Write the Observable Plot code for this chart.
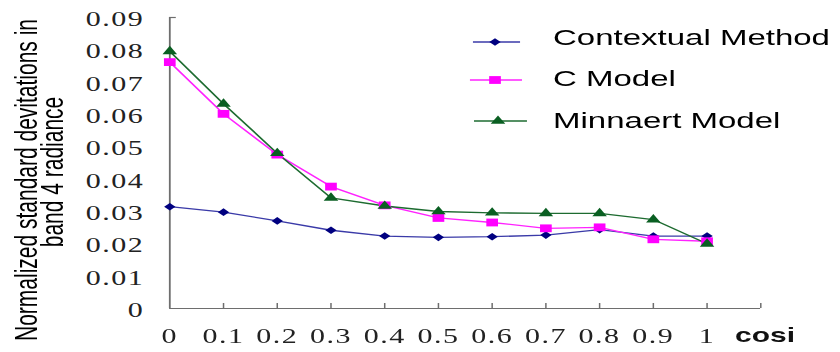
<!DOCTYPE html>
<html><head><meta charset="utf-8">
<script src="https://cdn.jsdelivr.net/npm/d3@7"></script>
<script src="https://cdn.jsdelivr.net/npm/@observablehq/plot@0.6"></script>
<style>
html,body{margin:0;padding:0;background:#fff;overflow:hidden}
#chart{width:560px;height:352px;transform:scaleX(1.5);transform-origin:0 0}
#chart svg{display:block}
</style></head><body><div id="chart"></div><script>
// ---- data ----
const cosi = [0, 0.1, 0.2, 0.3, 0.4, 0.5, 0.6, 0.7, 0.8, 0.9, 1];
const contextual = [0.0315, 0.0298, 0.0271, 0.0242, 0.0224, 0.0220, 0.0222, 0.0227, 0.0244, 0.0224, 0.0224];
const cModel = [0.0762, 0.0602, 0.0476, 0.0377, 0.0319, 0.0280, 0.0266, 0.0248, 0.0251, 0.0214, 0.0208];
const minnaert = [0.0795, 0.0633, 0.0480, 0.0342, 0.0317, 0.0300, 0.0296, 0.0294, 0.0294, 0.0275, 0.0200];
const seriesNames = ["Contextual Method", "C Model", "Minnaert Model"];
const yTicks = [0, 0.01, 0.02, 0.03, 0.04, 0.05, 0.06, 0.07, 0.08, 0.09];
const xTicks = [0, 0.1, 0.2, 0.3, 0.4, 0.5, 0.6, 0.7, 0.8, 0.9, 1];
const xTickMarks = [0.1, 0.2, 0.3, 0.4, 0.5, 0.6, 0.7, 0.8, 0.9, 1, 1.1];
const yTitle = ["Normalized standard devitations in", "band 4 radiance"];
const xTitle = "cosi";

// ---- styles ----
const colors = ["#000080", "#ff00ff", "#0a5f22"];
const lineColors = ["#3a3aa8", "#ff22ff", "#1d6b30"];
const symbols = ["diamond2", "square", "triangle"];
const radii = [3.4, 4.4, 3.6];
const axisColor = "#6e6e6e";
const tickFont = "'Liberation Serif', 'DejaVu Serif', serif";
const sansFont = "'Liberation Sans', Arial, sans-serif";

const W = 560, H = 352;
const mL = 112.7, mR = 53.3, mT = 17, mB = 44;
const plotW = W - mL - mR, plotH = H - mT - mB;

const series = [contextual, cModel, minnaert];
const fmtY = d => d === 0 ? "0" : d.toFixed(2);
const fmtX = d => (d === 0 || d === 1) ? String(d) : d.toFixed(1);

const marks = [
  Plot.axisY({ticks: yTicks, tickSize: 0, tickPadding: 17, tickFormat: fmtY,
    fontSize: 20, fontFamily: tickFont, fill: "#222", dy: 2, label: null}),
  Plot.axisX({ticks: xTicks, tickSize: 0, tickPadding: 20, tickFormat: fmtX,
    fontSize: 20, fontFamily: tickFont, fill: "#222", label: null}),
  Plot.ruleX([0], {stroke: axisColor, strokeWidth: 1.2}),
  Plot.ruleY([0], {stroke: axisColor, strokeWidth: 1.2}),
  Plot.ruleX(xTickMarks, {stroke: axisColor, strokeWidth: 1, insetTop: plotH - 5}),
  Plot.ruleY([yTicks[yTicks.length - 1]], {stroke: axisColor, strokeWidth: 1.2, insetRight: plotW - 4.5})
];
series.forEach((vals, k) => {
  marks.push(Plot.line(vals, {x: (d, i) => cosi[i], y: d => d, stroke: lineColors[k], strokeWidth: 1.3}));
});
series.forEach((vals, k) => {
  marks.push(Plot.dot(vals, {x: (d, i) => cosi[i], y: d => d, symbol: symbols[k], r: radii[k], fill: colors[k], stroke: "none"}));
});

const plot = Plot.plot({
  width: W, height: H,
  marginLeft: mL, marginRight: mR, marginTop: mT, marginBottom: mB,
  x: {domain: [0, 1.1]},
  y: {domain: [0, 0.09]},
  style: {background: "#fff", overflow: "visible"},
  marks
});
document.querySelector("#chart").append(plot);
plot.querySelectorAll("[aria-label='y-axis tick label'] text, [aria-label='x-axis tick label'] text")
  .forEach(t => t.setAttribute("letter-spacing", "1"));

const svg = d3.select(plot);
// y-axis title (two lines, rotated)
const yt = svg.append("g").attr("font-family", sansFont).attr("font-size", 21).attr("fill", "#000").attr("text-anchor", "middle");
yt.append("text").attr("transform", "translate(24.9,180) rotate(-90)").text(yTitle[0]);
yt.append("text").attr("transform", "translate(41.8,172) rotate(-90)").text(yTitle[1]);
// x-axis title
svg.append("text").attr("x", 490).attr("y", 342).attr("text-anchor", "start").attr("font-family", sansFont)
  .attr("font-size", 20).attr("font-weight", "bold").attr("fill", "#111").text(xTitle);

// legend
const d3sym = {diamond2: d3.symbolDiamond2, square: d3.symbolSquare, triangle: d3.symbolTriangle};
const legRows = [
  {x1: 315.3, x2: 346.7, mx: 330, y: 42, ty: 45},
  {x1: 313.3, x2: 348, mx: 330, y: 80, ty: 86},
  {x1: 316, x2: 351.3, mx: 332, y: 121, ty: 128}
];
const lg = svg.append("g").attr("text-anchor", "start");
seriesNames.forEach((name, k) => {
  const r = legRows[k];
  lg.append("line").attr("x1", r.x1).attr("x2", r.x2).attr("y1", r.y).attr("y2", r.y)
    .attr("stroke", lineColors[k]).attr("stroke-width", 1.3);
  lg.append("path").attr("transform", `translate(${r.mx},${r.y})`)
    .attr("d", d3.symbol(d3sym[symbols[k]], Math.PI * radii[k] * radii[k])())
    .attr("fill", colors[k]);
  lg.append("text").attr("x", 368.7).attr("y", r.ty).attr("font-family", sansFont)
    .attr("font-size", 22).attr("fill", "#000").text(name);
});
</script></body></html>
